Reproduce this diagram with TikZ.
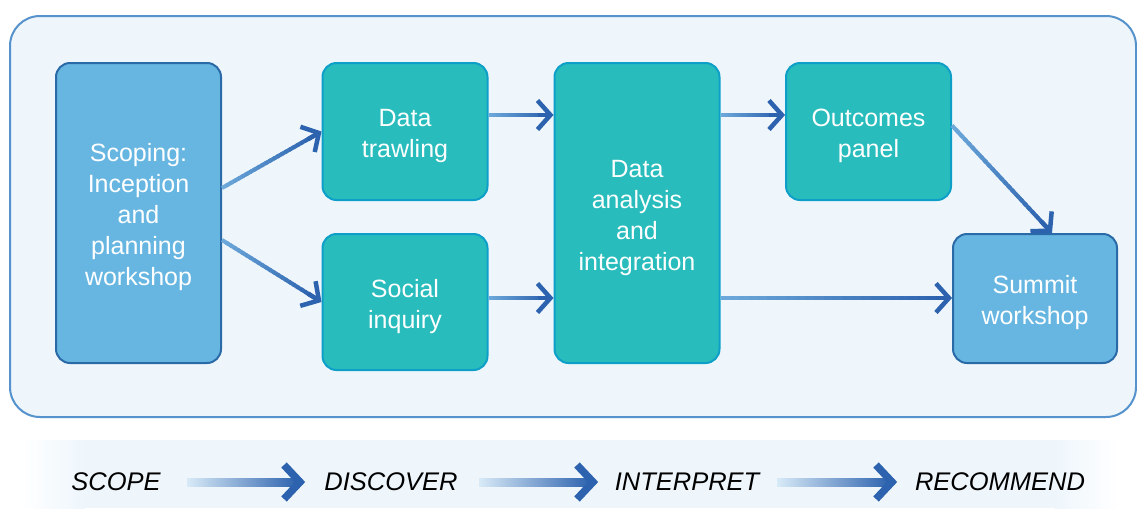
\documentclass[tikz,border=0pt]{standalone}
\usepackage{fontspec}
\setmainfont{Liberation Sans}
\usetikzlibrary{arrows.meta,calc}
\definecolor{panel}{HTML}{EEF6FC}
\definecolor{panelline}{HTML}{5693CC}
\definecolor{skyfill}{HTML}{67B6E2}
\definecolor{skyline}{HTML}{2A6AA6}
\definecolor{tealfill}{HTML}{29BCBD}
\definecolor{tealline}{HTML}{0E9FC8}
\definecolor{arrdark}{HTML}{2C62AE}
\definecolor{arrlight}{HTML}{6CA8DA}
\definecolor{bandlight}{HTML}{D8EAF7}
\newcommand\topstrut{\rule{0pt}{27pt}}
\newcommand\gradconn[2]{%
  \coordinate (gcend) at ($#2!6pt!#1$);
  \foreach \i in {0,...,23}{%
    \pgfmathsetmacro\ga{\i/24}%
    \pgfmathsetmacro\gb{min((\i+1.6)/24,1)}%
    \pgfmathtruncatemacro\gc{round(100*\i/23)}%
    \draw[line width=4pt, arrdark!\gc!arrlight] ($#1!\ga!(gcend)$) -- ($#1!\gb!(gcend)$);}%
  \draw[line width=4.5pt, arrdark, -{Straight Barb[length=13pt,width=29pt,sharp]}] ($#2!16pt!#1$) -- #2;}
\newcommand\bandarrow[2]{%
  \shade[left color=bandlight, right color=arrdark] ($#1+(0,-4)$) rectangle ($#2+(-7,4)$);
  \draw[arrdark, line width=7.5pt, line join=miter] ($#2+(-21,-17)$) -- ($#2+(-5,0)$) -- ($#2+(-21,17)$);}
\begin{document}
\begin{tikzpicture}[x=1pt,y=-1pt,
  box/.style={rounded corners=14pt, line width=2pt, minimum width=165pt, align=center, text=white, font=\fontsize{25}{31}\selectfont, inner sep=0pt},
  skybox/.style={box, draw=skyline, fill=skyfill},
  tealbox/.style={box, draw=tealline, fill=tealfill},
  phase/.style={font=\fontsize{25.5}{30}\selectfont\itshape, text=black, inner sep=0pt}]
\useasboundingbox (0,0) rectangle (1137,509);
\fill[white] (0,0) rectangle (1137,509);
\draw[panelline, fill=panel, line width=2pt, rounded corners=30pt] (10,16) rectangle (1136,417);
\node[skybox, minimum height=300pt] (scope) at (138.5,213) {\topstrut Scoping:\\Inception\\and\\planning\\workshop};
\node[tealbox, minimum height=137pt] (trawl) at (405,131.5) {\topstrut Data\\trawling};
\node[tealbox, minimum height=136pt] (social) at (405,302) {\topstrut Social\\inquiry};
\node[tealbox, minimum height=300pt] (analysis) at (637,213) {\topstrut Data\\analysis\\and\\integration};
\node[tealbox, minimum height=137pt] (outcomes) at (868.5,131.5) {\topstrut Outcomes\\panel};
\node[skybox, minimum width=164pt, minimum height=129pt] (summit) at (1035,298.5) {\topstrut Summit\\workshop};
\coordinate (a1s) at ([yshift=25pt]scope.east);
\coordinate (a2s) at ([yshift=-27pt]scope.east);
\coordinate (a3s) at ([yshift=16.5pt]trawl.east);
\coordinate (a3e) at (a3s -| analysis.west);
\coordinate (a4s) at ([yshift=4pt]social.east);
\coordinate (a4e) at (a4s -| analysis.west);
\coordinate (a5s) at (a3s -| analysis.east);
\coordinate (a5e) at (a3s -| outcomes.west);
\coordinate (a6s) at (a4s -| analysis.east);
\coordinate (a6e) at (a4s -| summit.west);
\coordinate (a7s) at ([yshift=6pt]outcomes.east);
\coordinate (a7e) at ([xshift=17pt]summit.north);
\gradconn{(a1s)}{(trawl.west)}
\gradconn{(a2s)}{(social.west)}
\gradconn{(a3s)}{(a3e)}
\gradconn{(a4s)}{(a4e)}
\gradconn{(a5s)}{(a5e)}
\gradconn{(a6s)}{(a6e)}
\gradconn{(a7s)}{(a7e)}
\fill[panel] (85,440) rectangle (1055,508);
\shade[left color=white, right color=panel] (20,440) rectangle (85.5,508);
\shade[left color=panel, right color=white] (1054.5,440) rectangle (1120,508);
\node[phase] (p1) at (116,482) {SCOPE};
\node[phase] (p2) at (391,482) {DISCOVER};
\node[phase] (p3) at (687,482) {INTERPRET};
\node[phase] (p4) at (1000,482) {RECOMMEND};
\coordinate (b1s) at (187,482);
\coordinate (b1e) at (305,482);
\coordinate (b2s) at (479,482);
\coordinate (b2e) at (598,482);
\coordinate (b3s) at (777,482);
\coordinate (b3e) at (897,482);
\bandarrow{(b1s)}{(b1e)}
\bandarrow{(b2s)}{(b2e)}
\bandarrow{(b3s)}{(b3e)}
\end{tikzpicture}
\end{document}
